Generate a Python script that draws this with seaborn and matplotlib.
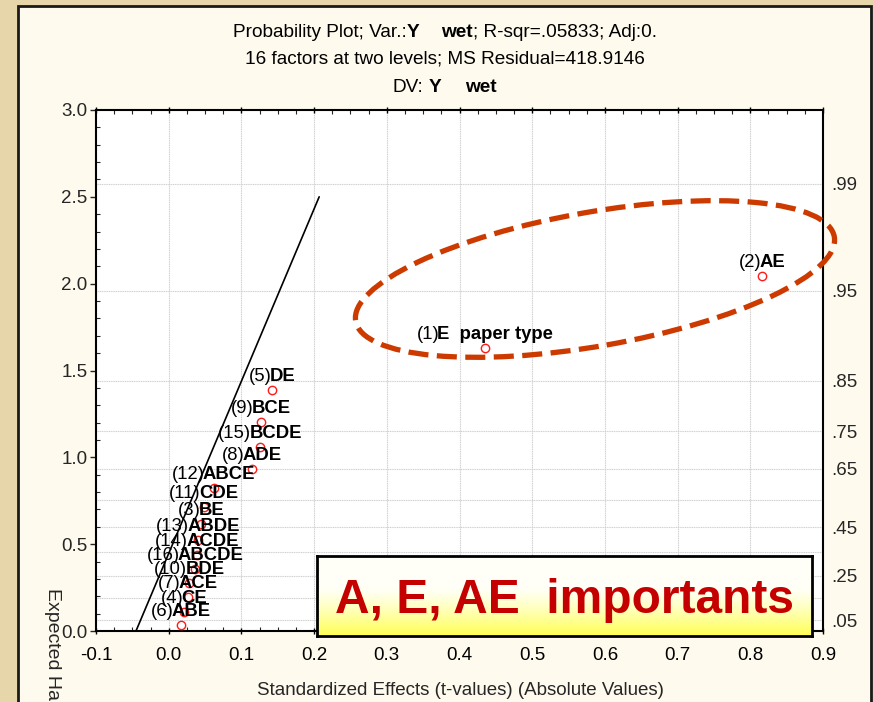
import numpy as np
import pandas as pd
import matplotlib
matplotlib.use("Agg")
import matplotlib.pyplot as plt
import seaborn as sns
from matplotlib.patches import Ellipse, Rectangle
from matplotlib.transforms import IdentityTransform, offset_copy
from matplotlib.ticker import MultipleLocator

# ---------------- data ----------------
label_num = ['(2)', '(1)', '(5)', '(9)', '(15)', '(8)', '(12)', '(11)', '(3)',
             '(13)', '(14)', '(16)', '(10)', '(7)', '(4)', '(6)']
label_eff = ['AE', 'E  paper type', 'DE', 'BCE', 'BCDE', 'ADE', 'ABCE', 'CDE', 'BE',
             'ABDE', 'ACDE', 'ABCDE', 'BDE', 'ACE', 'CE', 'ABE']
effects = [0.8165, 0.435, 0.142, 0.127, 0.1256, 0.1146, 0.0617, 0.048, 0.0444,
           0.0403, 0.039, 0.0366, 0.0284, 0.0265, 0.021, 0.0169]
expected = [2.044, 1.631, 1.387, 1.205, 1.061, 0.933, 0.821, 0.714, 0.614,
            0.522, 0.439, 0.355, 0.275, 0.196, 0.111, 0.035]

line_x = [-0.045, 0.207]
line_y = [0.0, 2.5]

x_ticks = [-0.1, 0.0, 0.1, 0.2, 0.3, 0.4, 0.5, 0.6, 0.7, 0.8, 0.9]
x_ticklabels = ['-0.1', '0.0', '0.1', '0.2', '0.3', '0.4', '0.5', '0.6', '0.7', '0.8', '0.9']
y_ticks = [0.0, 0.5, 1.0, 1.5, 2.0, 2.5, 3.0]
y_ticklabels = ['0.0', '0.5', '1.0', '1.5', '2.0', '2.5', '3.0']
prob_pos = [2.576, 1.960, 1.440, 1.150, 0.935, 0.598, 0.319, 0.063]
prob_labels = ['.99', '.95', '.85', '.75', '.65', '.45', '.25', '.05']
hgrid_pos = [0.063, 0.189, 0.319, 0.454, 0.598, 0.755, 0.935, 1.150, 1.440, 1.960, 2.576]

df = pd.DataFrame({'effect': effects, 'expected': expected})
line_df = pd.DataFrame({'x': line_x, 'y': line_y})

# ---------------- style ----------------
sns.set_style("white")
plt.rcParams['font.family'] = ['Liberation Sans', 'DejaVu Sans']

W, H, DPI = 873, 702, 100
fig = plt.figure(figsize=(W / DPI, H / DPI), dpi=DPI)
fig.patch.set_facecolor('#e8d6ab')

# cream panel
panel = Rectangle((18, -10), 853, 702 - 6 + 10, transform=IdentityTransform(),
                  facecolor='#fffaee', edgecolor='#1a1a1a', linewidth=2, zorder=0)
fig.add_artist(panel)

L, R, T, B = 96, 823, 110, 631
ax = fig.add_axes([L / W, 1 - B / H, (R - L) / W, (B - T) / H])
ax.set_facecolor('white')

ax.set_xlim(-0.1, 0.9)
ax.set_ylim(0, 3.0)

# grid
for xv in x_ticks[1:-1]:
    ax.axvline(xv, color='#cfcfcf', lw=0.8, ls=(0, (1, 0.6)), zorder=0.5)
ax.hlines(hgrid_pos, -0.1, 0.9, color='#cfcfcf', lw=0.8, ls=(0, (1, 0.6)), zorder=0.5)

sns.lineplot(data=line_df, x='x', y='y', ax=ax, color='black', lw=1.2, sort=False,
             zorder=2)
sns.scatterplot(data=df, x='effect', y='expected', ax=ax, marker='o', s=36,
                facecolor='white', edgecolor='#ff1a1a', linewidth=1.0, zorder=3)

ax.set_xlabel('')
ax.set_ylabel('')
ax.set_xticks(x_ticks)
ax.set_xticklabels(x_ticklabels)
ax.set_yticks(y_ticks)
ax.set_yticklabels(y_ticklabels)
ax.xaxis.set_minor_locator(MultipleLocator(0.025))
ax.yaxis.set_minor_locator(MultipleLocator(0.1))
ax.tick_params(axis='x', which='major', direction='inout', length=5, width=1,
               top=True, bottom=True, pad=9, labelsize=13.5, colors='black')
ax.tick_params(axis='x', which='minor', direction='in', length=3, width=0.8,
               top=True, bottom=True)
ax.tick_params(axis='y', which='major', direction='out', length=4, width=1,
               left=True, right=True, pad=2, labelsize=13.5)
ax.tick_params(axis='y', which='minor', direction='in', length=3, width=0.8,
               left=True, right=True)
for s in ax.spines.values():
    s.set_color('black')
    s.set_linewidth(1.5)

ax2 = ax.twinx()
ax2.set_ylim(0, 3.0)
ax2.set_yticks(prob_pos)
ax2.set_yticklabels(prob_labels)
ax2.tick_params(axis='y', length=0, pad=6, labelsize=13.5)
for s in ax2.spines.values():
    s.set_visible(False)

renderer = fig.canvas.get_renderer()


def mixed_text(x, y, parts, base_transform, fontsize, dy=0, va='baseline', zorder=5):
    """parts: list of (string, weight, gap_before_px)"""
    widths = []
    for s, w, g in parts:
        t = fig.text(0, 0, s, fontsize=fontsize, fontweight=w)
        widths.append(t.get_window_extent(renderer).width)
        t.remove()
    total = sum(widths) + sum(p[2] for p in parts)
    cur = -total / 2
    for (s, w, g), wd in zip(parts, widths):
        cur += g
        tr = offset_copy(base_transform, fig=fig, x=cur, y=dy, units='dots')
        fig.text(x, y, s, transform=tr, fontsize=fontsize, fontweight=w,
                 ha='left', va=va, zorder=zorder, color='black')
        cur += wd


# titles
ft = 13.7
mixed_text(445, H - 37, [('Probability Plot; Var.:', 'normal', 0), ('Y', 'bold', 0),
                         ('wet', 'bold', 22), ('; R-sqr=.05833; Adj:0.', 'normal', 0)],
           IdentityTransform(), ft)
mixed_text(445, H - 64, [('16 factors at two levels; MS Residual=418.9146', 'normal', 0)],
           IdentityTransform(), ft)
mixed_text(445, H - 92, [('DV:', 'normal', 0), ('Y', 'bold', 5), ('wet', 'bold', 24)],
           IdentityTransform(), ft)

# point labels
for xv, yv, n, e in zip(effects, expected, label_num, label_eff):
    mixed_text(xv, yv, [(n, 'normal', 0), (e, 'bold', -2)], ax.transData, 13.3, dy=9)

# axis labels
fig.text(460 / W, 7 / H, 'Standardized Effects (t-values) (Absolute Values)',
         fontsize=13.5, ha='center', va='baseline')
fig.text(52 / W, 1 - 588 / H, 'Expected Half-Normal Values', fontsize=14,
         rotation=270, ha='center', va='top')

# dashed ellipse annotation
ell = Ellipse((595, H - 279), 486, 134, angle=10, transform=IdentityTransform(),
              fill=False, edgecolor='#cc3a00', linewidth=3.8,
              linestyle=(0, (3.8, 1.6)), zorder=10)
fig.add_artist(ell)

# callout box with gradient
bx0, bx1, by0, by1 = 317, 812, 556, 636
bax = fig.add_axes([bx0 / W, 1 - by1 / H, (bx1 - bx0) / W, (by1 - by0) / H], zorder=20)
n = 100
t = np.linspace(0, 1, n)
ramp = np.clip((t - 0.4) / 0.6, 0, 1) ** 1.2
top_c = np.array([1.0, 1.0, 0.97])
bot_c = np.array([1.0, 1.0, 0.33])
grad = top_c[None, :] * (1 - ramp[:, None]) + bot_c[None, :] * ramp[:, None]
bax.imshow(grad[:, None, :], aspect='auto', extent=[0, 1, 0, 1], origin='upper')
bax.set_xlim(0, 1)
bax.set_ylim(0, 1)
bax.set_xticks([])
bax.set_yticks([])
for s in bax.spines.values():
    s.set_color('black')
    s.set_linewidth(2)
bax.text(0.5, 0.44, 'A, E, AE  importants', color='#c40000', fontsize=34.5,
         fontweight='bold', ha='center', va='center', transform=bax.transAxes)

fig.savefig('out.png', dpi=DPI, facecolor=fig.get_facecolor())
